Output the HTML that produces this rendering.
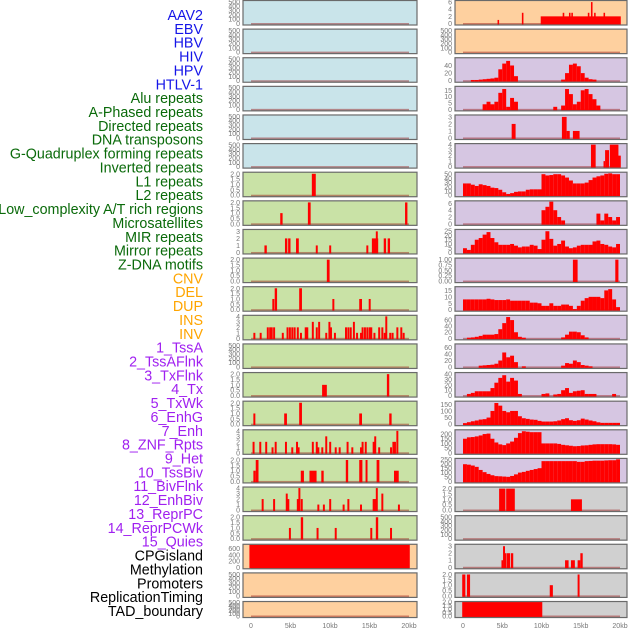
<!DOCTYPE html>
<html><head><meta charset="utf-8">
<style>
body{margin:0;background:#fff;width:630px;height:630px;overflow:hidden;font-family:"Liberation Sans",sans-serif}
svg{display:block}
</style></head><body>
<svg id="chart" width="630" height="630" viewBox="0 0 630 630" xmlns="http://www.w3.org/2000/svg"></svg>
<script>
const labelNames=["AAV2","EBV","HBV","HIV","HPV","HTLV-1","Alu repeats","A-Phased repeats","Directed repeats","DNA transposons","G-Quadruplex forming repeats","Inverted repeats","L1 repeats","L2 repeats","Low_complexity A/T rich regions","Microsatellites","MIR repeats","Mirror repeats","Z-DNA motifs","CNV","DEL","DUP","INS","INV","1_TssA","2_TssAFlnk","3_TxFlnk","4_Tx","5_TxWk","6_EnhG","7_Enh","8_ZNF_Rpts","9_Het","10_TssBiv","11_BivFlnk","12_EnhBiv","13_ReprPC","14_ReprPCWk","15_Quies","CPGisland","Methylation","Promoters","ReplicationTiming","TAD_boundary"];
const labelGroups=[0,0,0,0,0,0,1,1,1,1,1,1,1,1,1,1,1,1,1,2,2,2,2,2,3,3,3,3,3,3,3,3,3,3,3,3,3,3,3,4,4,4,4,4];
const xTickLabels=["0","5kb","10kb","15kb","20kb"];
const xTickValues=[0,5,10,15,20];
const T500=["0","100","200","300","400","500"];
const T2=["0.0","0.5","1.0","1.5","2.0"];
const L6=[[7.7,0.5,2]];
const L7=[[3.7,0.3,1],[7.2,0.35,2],[19.5,0.3,2]];
const L8=[[1.7,0.3,1],[4.3,0.3,2],[4.7,0.3,2],[5.7,0.35,2],[8.2,0.25,1],[9.9,0.25,1],[14.6,0.25,1],[15.3,0.8,2],[15.8,0.25,3],[16.8,0.3,2],[17.3,0.3,2]];
const L9=[[9.6,0.35,2]];
const L10=[[2.7,0.25,1],[3.0,0.3,2],[6.1,0.35,2],[10.3,0.25,1],[13.7,0.35,1],[14.9,0.25,1]];
const L11pos=[0.3,1.1,2.0,2.3,2.5,2.8,3.9,4.5,4.8,5.1,5.4,5.8,6.2,6.8,7.0,7.7,8.2,8.5,9.4,9.8,10.0,10.5,11.9,12.2,12.5,12.9,13.3,13.8,14.0,14.3,14.6,14.9,15.1,15.5,16.1,16.5,16.8,17.0,17.5,17.8,18.4,18.9,19.2];
const L11val=[1,1,2,2,2,2,1,2,2,2,2,2,1,2,2,3,2,3,1,3,2,1,2,2,2,3,1,1,2,2,2,2,2,1,2,2,1,4,1,1,2,2,1];
const L13=[[9.0,0.6,1],[17.2,0.3,2]];
const L14=[[0.3,0.25,1],[4.2,0.35,1],[6.1,0.35,2],[13.7,0.35,1],[17.5,0.3,1]];
const L15pos=[0.2,1.05,1.8,2.6,3.0,4.3,5.1,5.7,5.9,7.7,8.2,8.4,8.9,9.4,9.9,10.6,11.1,12.1,12.7,13.8,14.0,14.4,15.4,15.6,16.1,17.6,17.9,18.1,18.4];
const L15val=[2,2,2,1,2,2,1,2,1,2,2,1,1,3,2,1,1,2,1,1,2,2,2,3,1,1,2,2,4];
const L16=[[0.3,0.3,1],[0.6,0.35,2],[6.3,0.4,1],[7.4,0.9,1],[8.9,0.3,1],[12.0,0.3,2],[13.7,0.4,2],[14.5,0.25,2],[15.9,0.35,2],[18.1,0.6,1]];
const L17pos=[1.35,2.8,4.4,4.6,5.8,6.0,6.3,8.4,9.1,9.9,11.6,12.2,13.8,15.4,15.6,15.8,16.5,18.6];
const L17val=[2,2,3,2,2,4,2,1,1,2,1,2,1,2,2,4,3,1];
const L18=[[4.8,0.25,1],[6.3,0.3,2],[8.3,0.25,1],[10.6,0.25,1],[15.1,0.25,1],[15.8,0.3,2],[17.6,0.25,1]];
const L19=[[-0.2,20.3,720]];
const R0=[[4.4,0.2,1],[7.5,0.2,3],[9.9,10.2,2],[12.7,0.2,3],[13.5,0.2,3],[13.8,0.2,3],[15.9,0.2,3],[16.3,0.2,6],[16.7,0.2,3],[17.9,0.2,3]];
const R2=[0,0,2,2,3,4,5,6,8,30,45,52,40,12,0,0,0,0,0,0,0,0,0,0,0,3,20,42,45,38,20,8,4,3,0,0,0,0,0,0];
const R3=[0,0,0,0,0,4,6,4,6,13,16,2,9,6,0,0,0,0,0,0,0,0,0,2,0,3,16,12,4,6,15,16,12,8,3,0,0,0,0,0];
const R4=[[6.2,0.5,2],[12.6,0.6,3],[13.2,0.4,1],[14.0,0.85,1]];
const R5=[[16.3,0.6,4],[17.9,0.2,1],[18.1,0.5,3],[18.7,1.1,4],[19.7,0.4,2]];
const R6=[28,28,25,22,26,24,22,18,17,13,7,3,5,8,9,9,13,14,14,14,50,47,48,50,50,47,42,35,28,28,28,30,36,42,45,47,51,52,50,50];
const R7=[0,0,0,0,0,0,0,0,0,0,0,0,0,0,0,0,0,0,0,0,4,5,6.5,4,2,1,0,0,0,0,0,0,0,0,3,1,3,2,1,2];
const R8=[5,3,9,15,17,21,24,17,12,9,9,9,10,8,6,7,7,9,8,4,15,25,16,8,10,14,7,5,6,8,9,9,9,13,14,10,9,7,6,10];
const R9=[[14.0,0.6,1],[19.4,0.4,1]];
const R10=[8,8,8,8,8,8,8.5,8,7.5,7.5,7.5,8,7,7,7,7,7,5.5,5.5,5,3,3,5,3,3,4,4,3,0.5,3,7,9,10,10,10,9,15,16,8,2];
const R11=[0,2,3,5,8,12,12,12,14,30,50,70,60,20,5,2,0,0,0,0,0,0,0,0,0,3,12,22,22,20,10,3,0,0,0,0,0,0,0,0];
const R12=[0,0,0,0,4,5,6,7,10,20,45,30,35,15,0,2,0,0,0,0,0,0,0,0,0,4,12,10,20,15,6,4,2,0,0,0,0,0,0,0];
const R13=[0,3,5,8,8,8,8,14,24,33,38,26,33,28,3,0,0,0,0,0,3,4,0,2,3,10,14,5,8,9,10,3,3,3,0,0,0,0,3,0];
const R14=[8,15,22,28,35,38,50,100,160,140,100,90,100,100,60,45,40,35,33,25,20,20,20,22,28,38,45,30,25,30,42,35,28,22,14,10,10,10,10,10];
const R15=[150,165,168,175,185,200,205,150,110,90,82,100,120,160,210,230,225,220,220,220,100,100,100,100,95,85,80,75,70,72,78,80,85,90,92,92,92,92,90,85];
const R16=[195,190,180,165,130,105,85,70,60,58,55,52,62,80,100,108,120,130,140,150,230,230,230,230,230,230,230,230,230,222,222,230,232,235,235,235,238,240,240,250];
const R17=[[4.6,0.8,2],[5.5,1.1,2],[13.75,1.4,1]];
const R19=[[4.9,0.2,1],[5.1,0.25,3],[5.35,0.2,2],[5.6,0.4,2],[6.1,0.3,2],[13.0,0.45,1],[13.75,0.5,1],[14.6,0.35,1],[14.95,0.3,2]];
const R20=[[-0.1,0.4,2],[0.5,0.4,2],[11.05,0.4,1],[14.6,0.25,2]];
const R21=[[-0.1,10.2,2]];

const BG={blue:"#c9e4ea",green:"#c9e2a6",orange:"#fed09f",purple:"#d6c6e2",gray:"#d0d0d0"};
const labelColors=["#1515e8","#0a6a0a","#ffa500","#a020f0","#000000"];
const NS="http://www.w3.org/2000/svg";
const svg=document.getElementById("chart");
function mk(tag,attrs,parent){const e=document.createElementNS(NS,tag);for(const k in attrs)e.setAttribute(k,attrs[k]);(parent||svg).appendChild(e);return e;}
function pairs(pos,val,w){return pos.map((p,i)=>[p,w,val[i]]);}
function bins(vals){return vals.map((v,i)=>[i*0.5,0.5,v]);}

const panels=[];
for(let r=0;r<6;r++)panels.push({c:0,r,bg:"blue",t:T500,ymax:520,b:[]});
const leftG=[[L6,T2,2.1],[L7,T2,2.1],[L8,["0","1","2","3"],3.2],[L9,T2,2.1],[L10,T2,2.1],[pairs(L11pos,L11val,0.25),["0","1","2","3","4"],4.1],[[],T500,520],[L13,T2,2.1],[L14,T2,2.1],[pairs(L15pos,L15val,0.25),["0","1","2","3","4"],4.1],[L16,T2,2.1],[pairs(L17pos,L17val,0.25),["0","1","2","3","4"],4.1],[L18,T2,2.1]];
leftG.forEach((g,i)=>panels.push({c:0,r:6+i,bg:"green",t:g[1],ymax:g[2],b:g[0]}));
panels.push({c:0,r:19,bg:"orange",t:["0","200","400","600"],ymax:720,b:L19});
panels.push({c:0,r:20,bg:"orange",t:T500,ymax:520,b:[]});
panels.push({c:0,r:21,bg:"orange",t:T500,ymax:520,b:[]});
const rightG=[
[R0,"orange",["0","2","4","6"],6.3],[[],"orange",T500,520],
[bins(R2),"purple",["0","20","40"],59],[bins(R3),"purple",["0","5","10","15"],17.7],[R4,"purple",["0","1","2","3"],3.2],[R5,"purple",["0","1","2","3","4"],4.1],
[bins(R6),"purple",["0","10","20","30","40","50"],53.5],[bins(R7),"purple",["0","2","4","6"],6.6],[bins(R8),"purple",["0","5","10","15","20","25"],26.5],
[R9,"purple",["0.00","0.25","0.50","0.75","1.00"],1.05],[bins(R10),"purple",["0","5","10","15"],17.5],[bins(R11),"purple",["0","20","40","60"],74],
[bins(R12),"purple",["0","20","40","60"],70],[bins(R13),"purple",["0","10","20","30","40"],42],[bins(R14),"purple",["0","50","100","150"],170],
[bins(R15),"purple",["0","50","100","150","200"],240],[bins(R16),"purple",["0","50","100","150","200","250"],255],
[R17,"gray",T2,2.1],[[],"gray",T500,520],[R19,"gray",["0","1","2","3"],3.2],[R20,"gray",T2,2.1],[R21,"gray",T2,2.0]];
rightG.forEach((g,i)=>panels.push({c:1,r:i,bg:g[1],t:g[2],ymax:g[3],b:g[0]}));

const COLX=[{x0:243,x1:417,k0:251,k1:409},{x0:455,x1:627,k0:463,k1:620}];
panels.forEach(p=>{
  const col=COLX[p.c];
  const top=p.r*28.62+0.5;
  const h=p.r===21?16:24.5;
  const bot=top+h;
  const xs=k=>col.k0+(k/20)*(col.k1-col.k0);
  const ys=v=>bot-1.5-(v/p.ymax)*(h-2);
  const g=mk("g",{});
  
  
  const bg=mk("rect",{x:col.x0,y:top,width:col.x1-col.x0,height:h,fill:BG[p.bg]},g);
  
  
  mk("rect",{x:xs(0),y:ys(0)-0.5,width:xs(20)-xs(0),height:2,fill:"rgba(150,20,20,0.45)"},g);
  p.b.forEach(b=>{
    if(b[2]<=0)return;
    const x0=Math.max(xs(b[0]),col.x0+1),x1=Math.min(xs(b[0]+b[1]),col.x1-1);
    const y=Math.max(ys(b[2]),top+0.5);
    const r=mk("rect",{x:x0,y:y,width:Math.max(x1-x0,0.8),height:ys(0)+1-y,fill:"#ff0000"},g);
    
    
  });
  const fr=mk("rect",{x:col.x0,y:top,width:col.x1-col.x0,height:h,fill:"none",stroke:"#6a6a6a","stroke-width":1.2},g);
  
  
  p.t.forEach(t=>{
    const tx=mk("text",{x:col.x0-3,y:ys(parseFloat(t))+2.5,"text-anchor":"end","font-size":7,fill:"#777"},g);
    
    
    tx.textContent=t;
  });
});
COLX.forEach(col=>{
  xTickValues.forEach((v,i)=>{
    const tx=mk("text",{x:col.k0+(v/20)*(col.k1-col.k0),y:628,"text-anchor":"middle","font-size":7,fill:"#777"});
    
    
    tx.textContent=xTickLabels[i];
  });
});
labelNames.forEach((n,i)=>{
  const tx=mk("text",{x:203,y:15+i*13.86+5,"text-anchor":"end","font-size":14.3,fill:labelColors[labelGroups[i]]});
  
  
  tx.textContent=n;
});
</script>
</body></html>
